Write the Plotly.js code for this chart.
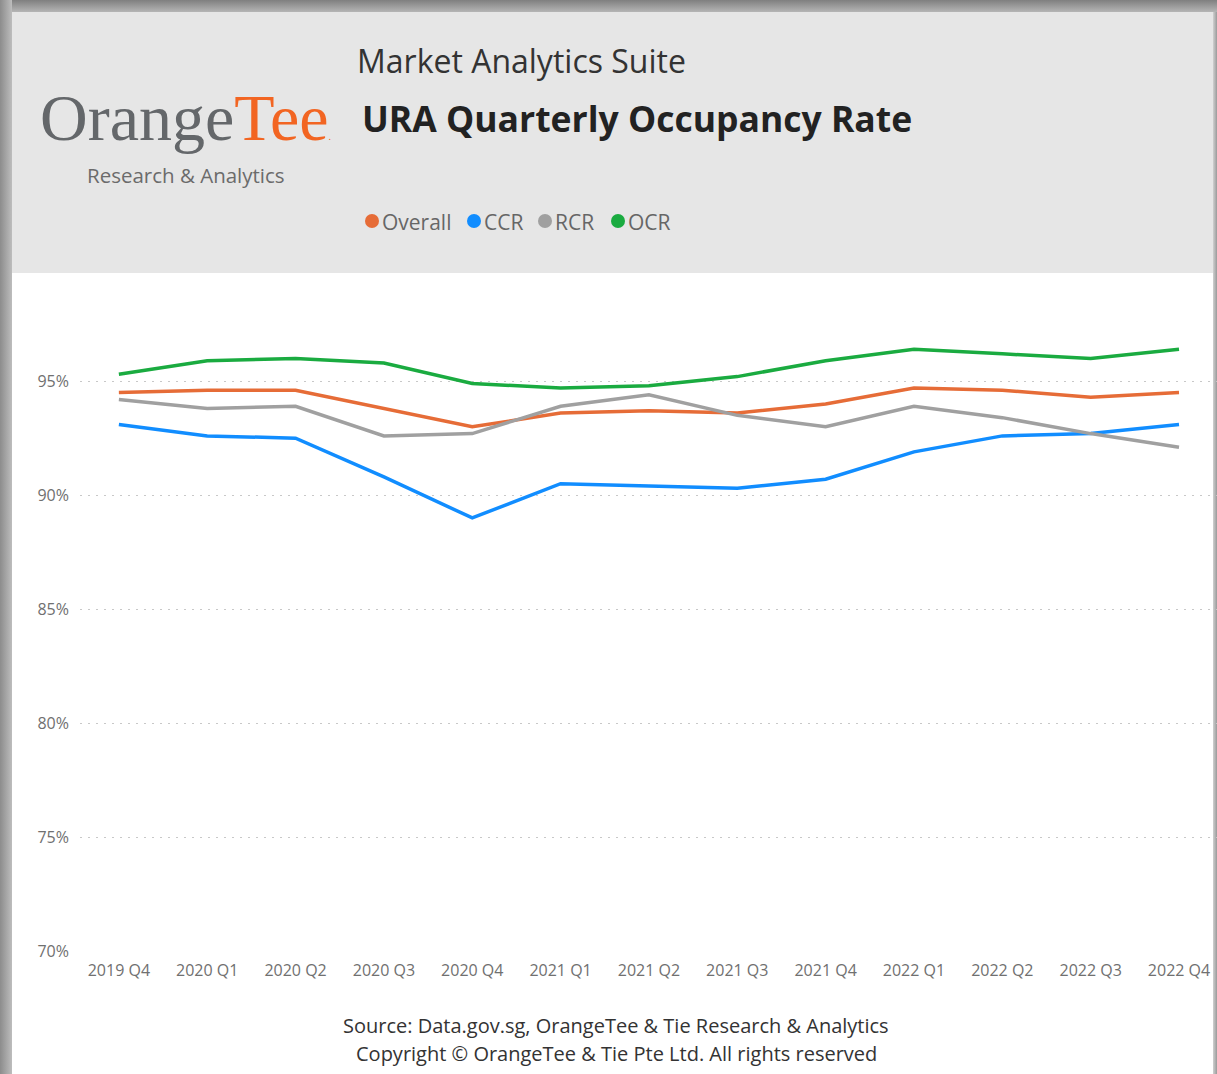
<!DOCTYPE html>
<html>
<head>
<meta charset="utf-8">
<script src="https://cdn.plot.ly/plotly-3.0.1.min.js"></script>
<style>
  html, body { margin:0; padding:0; width:1217px; height:1074px; overflow:hidden; background:#ffffff; }
  #frameTop { position:absolute; left:0; top:0; width:1217px; height:12px; background:linear-gradient(#7f7f7f,#b5b5b5); }
  #frameLeft { position:absolute; left:0; top:0; width:12px; height:1074px; background:linear-gradient(90deg,#8c8c8c,#bdbdbd); }
  #frameRight { position:absolute; left:1213px; top:12px; width:4px; height:1062px; background:linear-gradient(90deg,#d0d0d0,#9a9a9a); }
  #header { position:absolute; left:12px; top:12px; width:1201px; height:261px; background:#E6E6E6; }
  #chart { position:absolute; left:0; top:0; width:1217px; height:1074px; }
</style>
</head>
<body>
<div id="frameTop"></div>
<div id="frameLeft"></div>
<div id="header"></div>
<div id="frameRight"></div>
<div id="chart"></div>
<script>
const quarters = ["2019 Q4","2020 Q1","2020 Q2","2020 Q3","2020 Q4","2021 Q1","2021 Q2","2021 Q3","2021 Q4","2022 Q1","2022 Q2","2022 Q3","2022 Q4"];
const overall = [94.5, 94.6, 94.6, 93.8, 93.0, 93.6, 93.7, 93.6, 94.0, 94.7, 94.6, 94.3, 94.5];
const ccr     = [93.1, 92.6, 92.5, 90.8, 89.0, 90.5, 90.4, 90.3, 90.7, 91.9, 92.6, 92.7, 93.1];
const rcr     = [94.2, 93.8, 93.9, 92.6, 92.7, 93.9, 94.4, 93.5, 93.0, 93.9, 93.4, 92.7, 92.1];
const ocr     = [95.3, 95.9, 96.0, 95.8, 94.9, 94.7, 94.8, 95.2, 95.9, 96.4, 96.2, 96.0, 96.4];
const yTicks  = [70, 75, 80, 85, 90, 95];
const yTickText = ["70%","75%","80%","85%","90%","95%"];

const seriesNames  = ["Overall","CCR","RCR","OCR"];
const seriesColors = ["#E66C37","#118DFF","#A0A0A0","#1AAB40"];
const seriesData   = [overall, ccr, rcr, ocr];

const traces = seriesData.map((vals, i) => ({
  type: "scatter",
  mode: "lines",
  name: seriesNames[i],
  x: quarters,
  y: vals,
  line: { color: seriesColors[i], width: 3.5 },
  hoverinfo: "skip",
  showlegend: false
}));

// plot area geometry (px)
const L = 80, R = 0, T = 290, B = 123, W = 1217, H = 1074;
const pw = W - L - R, ph = H - T - B;
const px = x => (x - L) / pw;          // page px -> paper x
const py = y => (H - B - y) / ph;      // page px -> paper y

// custom header legend (dot + label), laid out left to right
const legendDotX = [372, 474, 545, 618];
const legendY = 221, dotR = 7;
const legendShapes = seriesNames.map((n, i) => ({
  type: "circle", xref: "paper", yref: "paper", layer: "above",
  x0: px(legendDotX[i] - dotR), x1: px(legendDotX[i] + dotR),
  y0: py(legendY + dotR), y1: py(legendY - dotR),
  fillcolor: seriesColors[i], line: { width: 0 }
}));
const legendLabels = seriesNames.map((n, i) => ({
  xref: "paper", yref: "paper", x: px(legendDotX[i] + dotR + 1), y: py(legendY + 1),
  xanchor: "left", yanchor: "middle", text: n, showarrow: false,
  font: { family: "Open Sans, sans-serif", size: 21, color: "#666666" }
}));

const layout = {
  width: W, height: H,
  margin: { l: L, r: R, t: T, b: B, pad: 0 },
  paper_bgcolor: "rgba(0,0,0,0)",
  plot_bgcolor: "rgba(0,0,0,0)",
  font: { family: "Open Sans, sans-serif", color: "#777777" },
  xaxis: {
    type: "category",
    range: [-0.44, 12.43],
    showgrid: false, zeroline: false, showline: false,
    ticks: "", tickfont: { size: 16, color: "#707070", family: "Open Sans, sans-serif" },
    ticklabelstandoff: 8,
    fixedrange: true
  },
  yaxis: {
    range: [70, 99],
    tickvals: yTicks, ticktext: yTickText,
    showgrid: true, gridcolor: "#C8C8C8", gridwidth: 1, griddash: "2px,6px",
    zeroline: false, showline: false, ticks: "",
    tickfont: { size: 16, color: "#707070", family: "Open Sans, sans-serif" },
    ticklabelstandoff: 10,
    fixedrange: true
  },
  showlegend: false,
  shapes: legendShapes,
  annotations: [
    { xref: "paper", yref: "paper", x: px(355), y: py(61), xanchor: "left", yanchor: "middle",
      text: "Market Analytics Suite", showarrow: false,
      font: { family: "Open Sans, sans-serif", size: 32, color: "#333333" } },
    { xref: "paper", yref: "paper", x: px(360), y: py(118), xanchor: "left", yanchor: "middle",
      text: "<b>URA Quarterly Occupancy Rate</b>", showarrow: false,
      font: { family: "Open Sans, sans-serif", size: 35.5, color: "#222222" } },
    { xref: "paper", yref: "paper", x: px(38), y: py(118), xanchor: "left", yanchor: "middle",
      text: "<span style=\"color:#64676a\">Orange</span><span style=\"color:#F26522\">Tee</span><span style=\"color:#F26522;font-size:10px\">.</span>",
      showarrow: false,
      font: { family: "Liberation Serif, serif", size: 66, color: "#64676a" } },
    { xref: "paper", yref: "paper", x: px(186), y: py(175), xanchor: "center", yanchor: "middle",
      text: "Research &amp; Analytics", showarrow: false,
      font: { family: "Open Sans, sans-serif", size: 20.5, color: "#6b6b6b" } },
    ...legendLabels,
    { xref: "paper", yref: "paper", x: px(616), y: py(1025), xanchor: "center", yanchor: "middle",
      text: "Source: Data.gov.sg, OrangeTee &amp; Tie Research &amp; Analytics", showarrow: false,
      font: { family: "Open Sans, sans-serif", size: 20, color: "#333333" } },
    { xref: "paper", yref: "paper", x: px(616), y: py(1053), xanchor: "center", yanchor: "middle",
      text: "Copyright © OrangeTee &amp; Tie Pte Ltd. All rights reserved", showarrow: false,
      font: { family: "Open Sans, sans-serif", size: 20, color: "#333333" } }
  ]
};

Plotly.newPlot("chart", traces, layout, { staticPlot: true, displayModeBar: false });
</script>
</body>
</html>
